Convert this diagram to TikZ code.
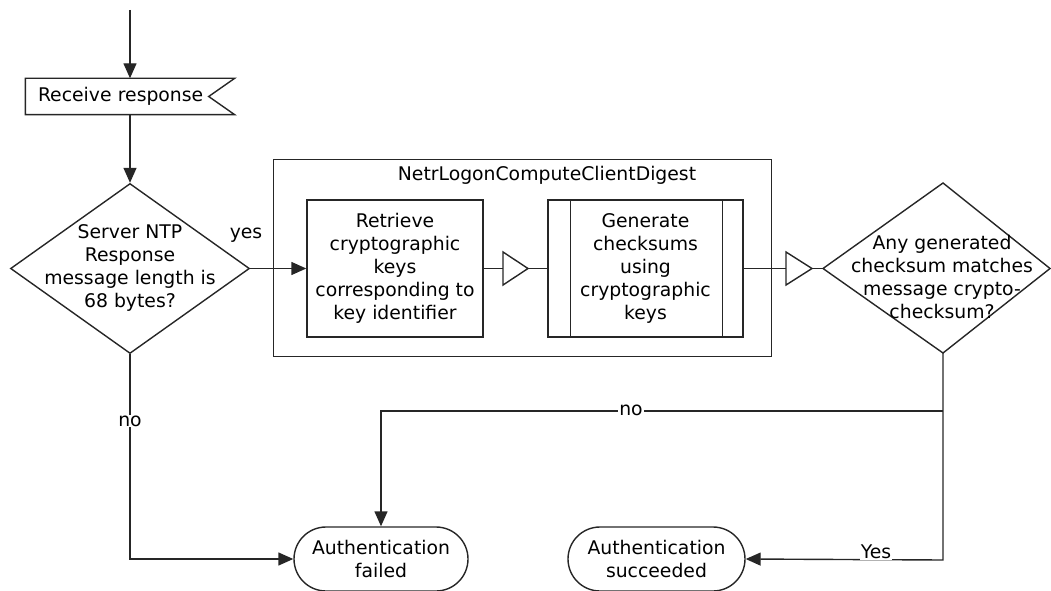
\documentclass[tikz,border=0pt]{standalone}
\usepackage{fontspec}
\setmainfont{DejaVu Sans}
\usetikzlibrary{shapes.geometric,shapes.misc,arrows.meta,calc}
\begin{document}
\begin{tikzpicture}[x=1pt,y=-1pt,line width=1.4pt,draw=black!85,
  every node/.style={font=\fontsize{18.8}{23}\selectfont},
  arr/.style={-{Triangle[length=15pt,width=13pt]}},
  txt/.style={align=center,inner sep=0pt},
  box/.style={draw,inner sep=0pt,align=center},
  term/.style={draw,rounded rectangle,inner sep=0pt,align=center},
  lbl/.style={fill=white,inner sep=1pt}]
\useasboundingbox (0,0) rectangle (1051,591);

% Receive response
\node[inner sep=0pt,inner xsep=12pt,minimum width=208,minimum height=35,text width=184,align=left] (recv) at (130,96.5) {Receive response};
\draw (recv.north west) -- (recv.north east) -- ($(recv.east)+(-26,0)$) -- (recv.south east) -- (recv.south west) -- cycle;

% Decision 1
\node[draw,diamond,minimum width=239,minimum height=170,inner sep=0pt] (d1) at (130,268.5) {};
\node[txt] (d1t) at (130,268) {Server NTP\\Response\\message length is\\68 bytes?};

% Function frame
\node[box,minimum width=498,minimum height=197] (fn) at (522.5,258) {};
\node[txt] (fnt) at (547,175) {NetrLogonComputeClientDigest};

\node[box,minimum width=176,minimum height=137] (ret) at (395,268.5) {Retrieve\\cryptographic\\keys\\corresponding to\\key identifier};
\node[box,minimum width=195,minimum height=137] (gen) at (645.5,268.5) {Generate\\checksums\\using\\cryptographic\\keys};
\draw ([xshift=23]gen.north west) -- ([xshift=23]gen.south west);
\draw ([xshift=-21]gen.north east) -- ([xshift=-21]gen.south east);

% merge triangles
\coordinate (t1a) at (503,268.5);
\coordinate (t1b) at (528,268.5);
\draw (503,252) -- (t1b) -- (503,285) -- cycle;
\coordinate (t2a) at (786,268.5);
\coordinate (t2b) at (812,268.5);
\draw (786,252) -- (t2b) -- (786,285) -- cycle;

% Decision 2
\coordinate (d2w) at (823,268.5);
\coordinate (d2n) at (943,183);
\coordinate (d2e) at (1050,268.5);
\coordinate (d2s) at (943,353);
\draw (d2w) -- (d2n) -- (d2e) -- (d2s) -- cycle;
\node[txt] (d2t) at (942,277) {Any generated\\checksum matches\\message crypto-\\checksum?};

% Terminals
\node[term,minimum width=174,minimum height=64] (fail) at (381,559) {Authentication\\failed};
\node[term,minimum width=177,minimum height=64] (succ) at (656.5,559) {Authentication\\succeeded};

% Connectors
\coordinate (top) at (130,10);
\draw[arr] (top) -- (recv.north);
\draw[arr] (recv.south) -- (d1.north);
\draw[arr] (d1.east) -- (ret.west);
\node (yes) at (246,235) {yes};
\draw (ret.east) -- (t1a);
\draw (t1b) -- (gen.west);
\draw (gen.east) -- (t2a);
\draw (t2b) -- (d2w);
\draw[arr] (d1.south) |- (fail.west);
\node[lbl] (no1) at (130,421) {no};

\coordinate (j1) at (943,411);
\coordinate (c2) at (943,560);
\draw[arr] (d2s) -- (c2) -- (succ.east);
\node[lbl] (yes2) at (876,552) {Yes};
\draw[arr] (j1) -| (fail.north);
\node[lbl] (no2) at (631,410) {no};
\end{tikzpicture}
\end{document}
